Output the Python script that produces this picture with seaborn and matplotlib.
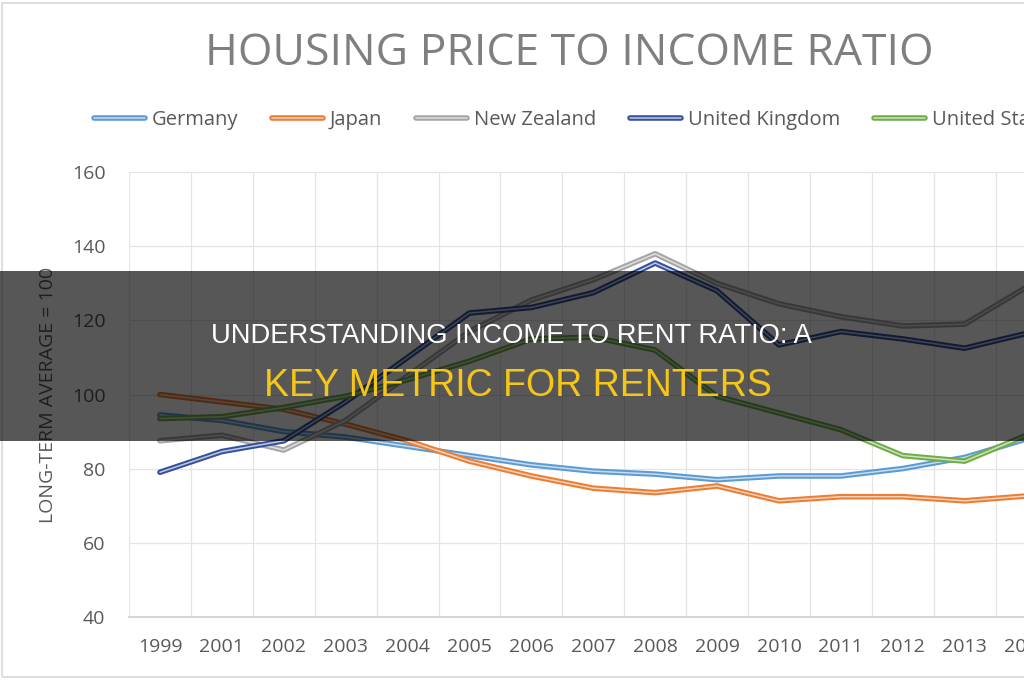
import numpy as np
import pandas as pd
import matplotlib
matplotlib.use("Agg")
import matplotlib.pyplot as plt
import matplotlib.patheffects as pe
from matplotlib.patches import Rectangle
import seaborn as sns

# values (long-term average = 100)
years = ["1999", "2001", "2002", "2003", "2004", "2005", "2006", "2007",
         "2008", "2009", "2010", "2011", "2012", "2013", "2014"]
germany = [94.5, 93, 90, 88.5, 86, 83.5, 81, 79.3, 78.5, 77, 78, 78, 80, 83, 88]
japan = [100, 98, 96, 92, 87.5, 82, 78, 74.7, 73.5, 75.3, 71.3, 72.4, 72.4, 71.3, 72.6]
new_zealand = [87.5, 89, 85, 93, 105, 117, 125.5, 131, 138, 130, 124.5, 121, 118.5, 119, 129]
united_kingdom = [79, 84.6, 87.5, 98, 110, 122, 123.5, 127.5, 135.5, 128, 113.4, 117, 115, 112.5, 116.5]
united_states = [93.5, 94, 96.5, 99.5, 104, 109, 115, 115.5, 112, 99.5, 95, 90.5, 83.5, 82, 89]

countries = ["Germany", "Japan", "New Zealand", "United Kingdom", "United States"]
series = [germany, japan, new_zealand, united_kingdom, united_states]
colors = ["#5B9BD5", "#ED7D31", "#A5A5A5", "#34519E", "#70AD47"]

sns.set_theme(style="white")
plt.rcParams["font.family"] = ["Open Sans", "DejaVu Sans"]

fig = plt.figure(figsize=(10.24, 6.8), dpi=100)
ax = fig.add_axes([129 / 1024, 0.0931, 928.5 / 1024, 0.6535])

pos = np.arange(len(years))
for name, vals, c in zip(countries, series, colors):
    df = pd.DataFrame({"pos": pos, "value": vals})
    inner = sns.light_palette(c, n_colors=5)[1]
    sns.lineplot(data=df, x="pos", y="value", color=c, label=name, ax=ax,
                 path_effects=[pe.Stroke(linewidth=4.0, foreground=c),
                               pe.Stroke(linewidth=1.1, foreground=inner)])

ax.set_xlim(-0.5, len(years) - 0.5)
ax.set_ylim(40, 160)
ax.set_yticks(range(40, 161, 20))
ax.set_xticks(pos, years)
ax.set_xticks(pos - 0.5, minor=True)
ax.grid(True, which="major", axis="y", color="#e4e4e4", lw=0.9)
ax.grid(True, which="minor", axis="x", color="#e4e4e4", lw=0.9)
ax.tick_params(axis="both", which="both", length=0, labelsize=14, colors="#595959")
ax.tick_params(axis="y", pad=17)
ax.tick_params(axis="x", pad=15)
for s in ["top", "right", "left"]:
    ax.spines[s].set_visible(False)
ax.spines["bottom"].set_color("#d0d0d0")
ax.set_xlabel("")
ax.set_ylabel("LONG-TERM AVERAGE = 100", fontsize=14, color="#595959")
ax.yaxis.set_label_coords(-0.0775, 0.5)

handles, labels = ax.get_legend_handles_labels()
ax.legend_.remove()
fig.legend(handles, labels, ncol=5, loc="center", bbox_to_anchor=(576 / 1024, 1 - 120 / 680),
           frameon=False, fontsize=14.5, labelcolor="#595959", handlelength=2.5,
           handletextpad=0.35, columnspacing=1.7)

fig.text(569 / 1024, 1 - 65 / 680, "HOUSING PRICE TO INCOME RATIO", ha="center", va="baseline",
         fontsize=32, color="#7f7f7f")

# chart frame
fig.add_artist(Rectangle((0.002, 0.004), 1.1, 0.992, fill=False, edgecolor="#d9d9d9",
                         lw=1.2, transform=fig.transFigure))

# dark banner with headline
fig.add_artist(Rectangle((0, 1 - 441 / 680), 1, 170 / 680, facecolor="black", alpha=0.66,
                         edgecolor="none", transform=fig.transFigure, zorder=10))
fig.text(0.499, 1 - 343 / 680, "UNDERSTANDING INCOME TO RENT RATIO: A", ha="center",
         va="baseline", fontsize=19.7, color="white", family=["Liberation Sans", "DejaVu Sans"],
         zorder=11)
fig.text(0.506, 1 - 396 / 680, "KEY METRIC FOR RENTERS", ha="center", va="baseline",
         fontsize=27, color="#F5C518", family=["Liberation Sans", "DejaVu Sans"], zorder=11)

fig.savefig("out.png", dpi=100)
